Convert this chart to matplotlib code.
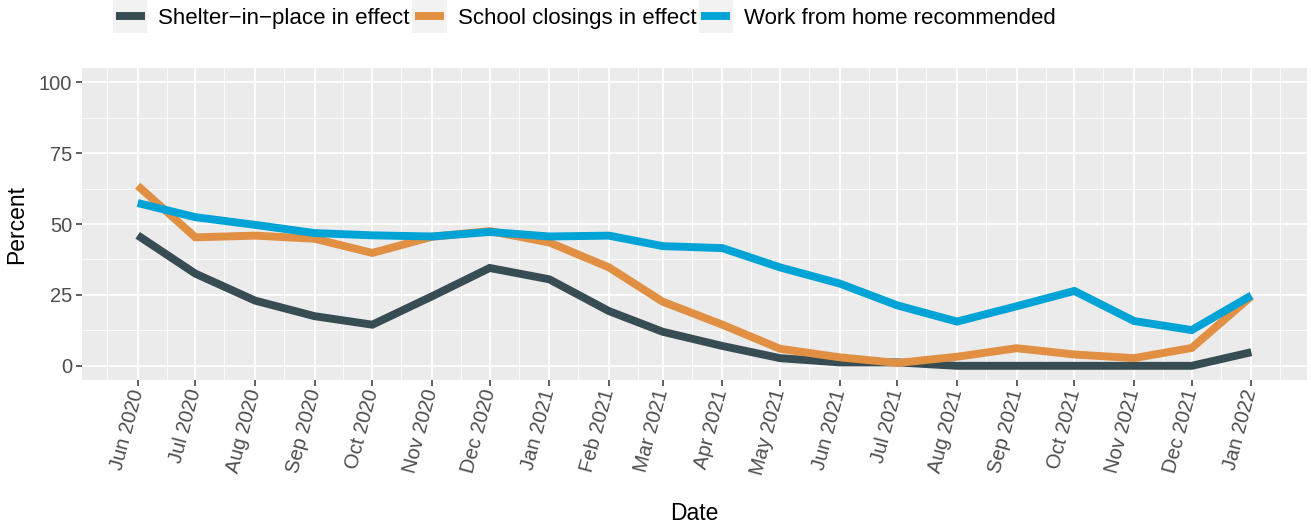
import numpy as np
import pandas as pd
import matplotlib
matplotlib.use("Agg")
import matplotlib.pyplot as plt
import matplotlib.dates as mdates
from matplotlib.legend_handler import HandlerLine2D
from matplotlib.patches import Rectangle
from matplotlib.lines import Line2D

plt.rcParams['font.family'] = ['Liberation Sans', 'DejaVu Sans']

# monthly data, Jun 2020 .. Jan 2022
months = pd.date_range("2020-06-01", "2022-01-01", freq="MS")
shelter = [46, 32.5, 23, 17.5, 14.5, 24.5, 34.5, 30.5, 19.3, 12, 7, 2.7, 1.2, 1.2,
           0, 0, 0, 0, 0, 4.8]
school = [63.5, 45.3, 45.9, 44.8, 39.8, 45.5, 47.5, 43.5, 34.7, 22.6, 14.5, 6, 3, 1,
          3.2, 6.2, 4, 2.7, 6.3, 24.5]
wfh = [57.4, 52.4, 49.7, 46.8, 46, 45.6, 47.2, 45.6, 45.9, 42.2, 41.5, 34.7, 29,
       21.3, 15.6, 21, 26.4, 15.8, 12.6, 24.8]

series = [
    ("Shelter\u2212in\u2212place in effect", shelter, "#374C53"),
    ("School closings in effect", school, "#E08F43"),
    ("Work from home recommended", wfh, "#00A3D6"),
]


class KeyHandler(HandlerLine2D):
    # ggplot-style legend key: grey box with a thick line through it
    def create_artists(self, legend, orig_handle, xdescent, ydescent,
                       width, height, fontsize, trans):
        h = 1.55 * fontsize
        cy = height / 2 - ydescent
        bg = Rectangle((-xdescent, cy - h / 2), width, h,
                       facecolor="#F2F2F2", edgecolor="none", transform=trans)
        ln = Line2D([-xdescent + 0.08 * width, -xdescent + 0.92 * width], [cy, cy],
                    color=orig_handle.get_color(), lw=orig_handle.get_linewidth(),
                    solid_capstyle="butt", transform=trans)
        return [bg, ln]


fig = plt.figure(figsize=(13.11, 5.30), dpi=100)
ax = fig.add_axes([82 / 1311, 1 - 380 / 530, (1307 - 82) / 1311, (380 - 68) / 530])

ax.set_facecolor("#EBEBEB")
handles = []
for name, vals, col in series:
    l, = ax.plot(months, vals, color=col, lw=5.7, label=name, solid_capstyle="butt",
                 solid_joinstyle="miter", zorder=3)
    handles.append(l)

span = months[-1] - months[0]
pad = span * 0.05
ax.set_xlim(months[0] - pad, months[-1] + pad)
ax.set_ylim(-5, 105)

ax.set_xticks(months)
ax.set_xticklabels([d.strftime("%b %Y") for d in months], rotation=75,
                   ha="right", va="center", rotation_mode="anchor")
ax.xaxis.set_minor_locator(mdates.DayLocator(bymonthday=16))
ax.set_yticks([0, 25, 50, 75, 100])
ax.set_yticks([12.5, 37.5, 62.5, 87.5], minor=True)

ax.grid(which="major", color="white", lw=1.3)
ax.grid(which="minor", color="white", lw=0.6)
ax.set_axisbelow(True)
for s in ax.spines.values():
    s.set_visible(False)
ax.tick_params(which="major", length=4, width=1.1, color="#333333",
               labelsize=14.5, labelcolor="#4D4D4D", pad=3)
ax.tick_params(which="minor", length=0)

ax.set_xlabel("Date", fontsize=16.5, labelpad=18)
ax.set_ylabel("Percent", fontsize=16.5, labelpad=8)

fig.legend(handles=handles, loc="center left", bbox_to_anchor=(104 / 1311, 0.966),
           ncol=3, frameon=False, fontsize=16, handlelength=1.55,
           handletextpad=0.5, columnspacing=0.1, borderaxespad=0,
           handler_map={Line2D: KeyHandler()})

fig.savefig("out.png", dpi=100)
